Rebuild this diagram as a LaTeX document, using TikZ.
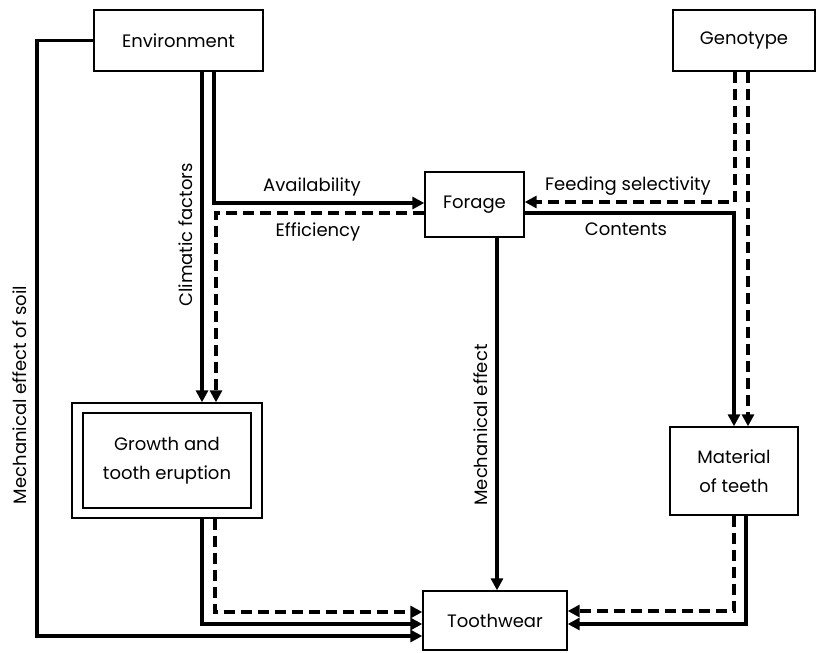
\documentclass[tikz,border=0pt]{standalone}
\usepackage{fontspec}
\setmainfont{Poppins}
\usetikzlibrary{arrows.meta}
\begin{document}
\begin{tikzpicture}[x=1pt,y=-1pt,
  lab/.style={font=\fontsize{18}{23}\selectfont, inner sep=0pt},
  box/.style={draw, line width=1.4pt, inner sep=0pt, align=center,
    font=\fontsize{18}{29}\selectfont},
  sol/.style={line width=3.1pt, line join=miter},
  dsh/.style={line width=3.1pt, line join=miter, dash pattern=on 11pt off 6pt},
  tip/.style={-{Triangle[length=12pt,width=12pt]}}]
\useasboundingbox (0,0) rectangle (817,653);

% boxes
\node[box, minimum width=169pt, minimum height=61pt] (env) at (178.5,40.5) {Environment};
\node[box, minimum width=142pt, minimum height=61pt] (geno) at (744,40.5) {Genotype};
\node[box, minimum width=99pt, minimum height=65pt] (forage) at (474.5,204.5) {Forage};
\node[box, minimum width=190pt, minimum height=115pt] (growth) at (167,460.5) {};
\node[box, minimum width=168pt, minimum height=95pt] (growthin) at (growth.center) {Growth and\\tooth eruption};
\node[box, minimum width=128pt, minimum height=88pt] (mat) at (734,471) {Material\\of teeth};
\node[box, minimum width=144pt, minimum height=59pt] (tw) at (495,620.5) {Toothwear};

% environment links
\draw[sol,tip] (env.west) -- (37,0 |- env.west) -- (37,636) -- (tw.west |- 0,636);
\draw[sol,tip] (202,0 |- env.south) -- (202,0 |- growth.north);
\draw[sol,tip] (214,0 |- env.south) -- (214,203) -- (forage.west |- 0,203);
\draw[dsh,tip] (forage.west |- 0,213) -- (216,213) -- (216,0 |- growth.north);

% genotype links
\draw[dsh,tip] (735,0 |- geno.south) -- (735,202) -- (forage.east |- 0,202);
\draw[dsh,tip] (748,0 |- geno.south) -- (748,0 |- mat.north);
\draw[sol,tip] (forage.east |- 0,213) -- (734,213) -- (734,0 |- mat.north);

% forage to toothwear
\draw[sol,tip] (497,0 |- forage.south) -- (497,0 |- tw.north);

% growth to toothwear
\draw[sol,tip] (202,0 |- growth.south) -- (202,624) -- (tw.west |- 0,624);
\draw[dsh,tip] (215,0 |- growth.south) -- (215,612) -- (tw.west |- 0,612);

% material to toothwear
\draw[dsh,tip] (734,0 |- mat.south) -- (734,611) -- (tw.east |- 0,611);
\draw[sol,tip] (746,0 |- mat.south) -- (746,624) -- (tw.east |- 0,624);

% labels
\node[lab] (lsoil) at (20,395) [rotate=90] {Mechanical effect of soil};
\node[lab] (lclim) at (186,235) [rotate=90] {Climatic factors};
\node[lab] (lavail) at (312,187) {Availability};
\node[lab] (leff) at (318,232) {Efficiency};
\node[lab] (lfeed) at (628,186) {Feeding selectivity};
\node[lab] (lcont) at (626,229) {Contents};
\node[lab] (lmech) at (481,425) [rotate=90] {Mechanical effect};
\end{tikzpicture}
\end{document}
